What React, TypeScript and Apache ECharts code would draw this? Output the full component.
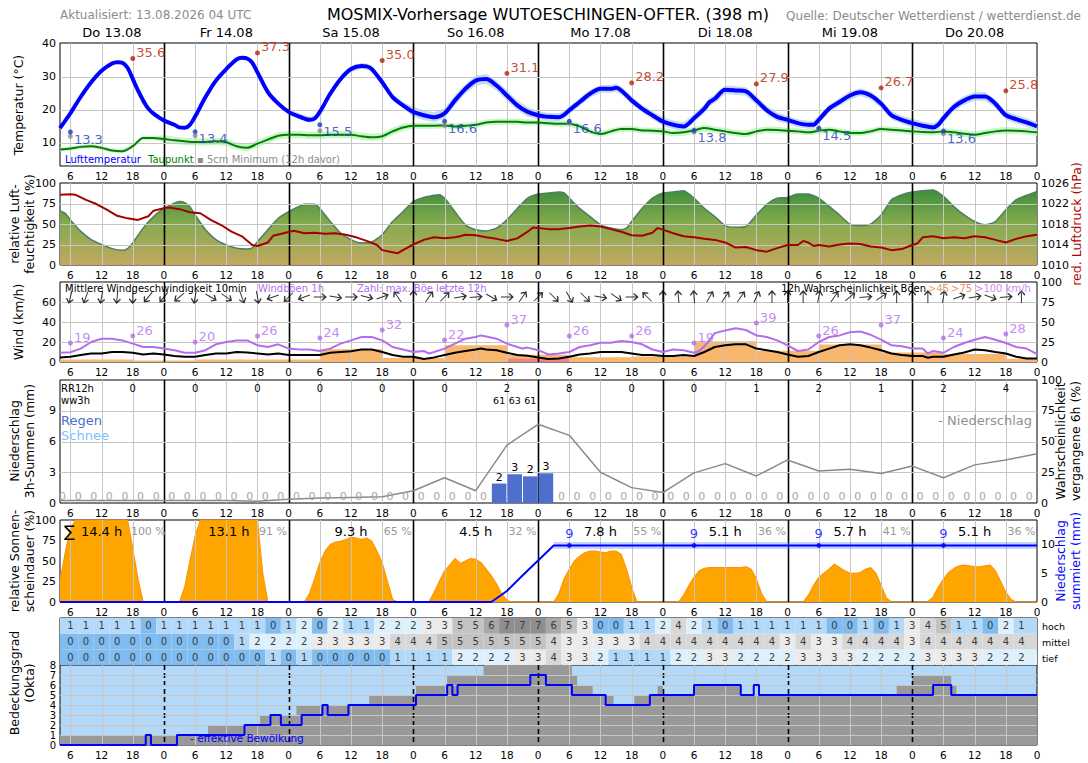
import React, { useEffect, useRef } from "react";
import * as echarts from "echarts";

const FONT = "DejaVu Sans";
const X_MIN = 4;
const X_MAX = 192;

// ---- axes / categories ----
const xTicks = [6,12,18,24,30,36,42,48,54,60,66,72,78,84,90,96,102,108,114,120,126,132,138,144,150,156,162,168,174,180,186,192];
const dayCenters = [14,36,60,84,108,132,156,180];
const dayLabels = ["Do 13.08","Fr 14.08","Sa 15.08","So 16.08","Mo 17.08","Di 18.08","Mi 19.08","Do 20.08"];
const hours3 = [6,9,12,15,18,21,24,27,30,33,36,39,42,45,48,51,54,57,60,63,66,69,72,75,78,81,84,87,90,93,96,99,102,105,108,111,114,117,120,123,126,129,132,135,138,141,144,147,150,153,156,159,162,165,168,171,174,177,180,183,186,189];
const minHours = [6,30,54,78,102,126,150,174];
const maxHours = [18,42,66,90,114,138,162,186];
const gustMaxHours = [6,18,30,42,54,66,78,90,102,114,126,138,150,162,174,186];

// ---- temperature ----
const temperature = [[4,14.5],[6,19],[8,24],[10,28.4],[12,31.9],[14,34.1],[15,34.5],[16,34.3],[17,32.8],[18,29.4],[19,25.9],[20,22.9],[21,20.4],[22,18.9],[24,16.8],[26,15.5],[27,14.7],[28,14.6],[29,15.5],[30,18],[32,23.9],[34,28.9],[36,32.4],[38,35.3],[39,35.8],[40,35.6],[41,34.3],[42,31.4],[44,25.4],[46,21.9],[48,19.4],[50,18],[52,17],[53,17.4],[54,19.4],[56,24.9],[58,29.4],[60,32.4],[62,33.3],[63,33.2],[64,32.4],[66,28.4],[68,23.9],[70,21.4],[72,19.4],[74,18.4],[76,17.8],[78,19],[80,22.9],[82,26.4],[84,28.9],[86,29.4],[88,27.4],[90,24.4],[92,21.4],[94,19.4],[96,18.4],[98,17.9],[100,17.8],[101,18.5],[102,19.9],[104,22.4],[106,24.9],[108,26.4],[110,26.4],[111,26.7],[112,25.9],[114,22.9],[116,20.4],[118,18.4],[120,16.5],[122,15.5],[124,15],[126,17.5],[128,20.4],[129,22.4],[130,23.4],[132,26.1],[134,25.9],[136,25.6],[138,22.9],[140,19.9],[142,17.9],[144,17],[146,16],[148,15.5],[149,15.5],[150,17],[152,20.4],[154,22.4],[156,24.4],[158,25.4],[160,24.4],[162,21.9],[164,18.4],[166,17],[168,16],[170,15.2],[172,14.7],[173,15.5],[174,17.5],[176,20.9],[178,22.9],[180,24.1],[182,24.1],[184,21.9],[186,18.4],[188,17.2],[190,16.2],[192,15]];
const dewpoint = [[4,8],[6,8.3],[8,8.8],[10,9],[12,8.5],[14,7.7],[16,7.5],[18,9],[20,11.5],[22,11.5],[24,11.2],[26,10.8],[28,10.5],[30,10.3],[32,10.3],[34,10.5],[36,10.2],[38,9],[40,8.5],[42,9.8],[44,11],[46,12.2],[48,12.5],[50,12.5],[52,12.3],[54,12.3],[56,12.5],[58,12.5],[60,12.5],[62,12],[64,11.7],[66,12],[68,13.5],[70,14.7],[72,15.2],[74,15.2],[76,15.2],[78,15.3],[80,15],[82,15.2],[84,15.5],[86,16.2],[88,16.4],[90,16.4],[92,16.4],[94,16.2],[96,16.2],[98,16],[100,15.8],[102,15.8],[104,15],[106,13.5],[108,12.7],[110,13.5],[112,14.2],[114,14.2],[116,13.8],[118,13.7],[120,13.5],[122,13],[124,13.2],[126,13.8],[128,14.5],[130,14],[132,13.5],[134,13],[136,12.7],[138,13.5],[140,14],[142,13.9],[144,13.7],[146,13.5],[148,13.2],[150,13.7],[152,14],[154,13.5],[156,13],[158,13],[160,13.5],[162,14.2],[164,14],[166,13.8],[168,13.5],[170,13.3],[172,13.2],[174,13.5],[176,13.2],[178,12.8],[180,12.5],[182,13],[184,13.5],[186,13.8],[188,13.7],[190,13.5],[192,13.2]];
const tempSpreadPerDay = [0.25,0.5,0.9,1.5,1.2,1.3,1.2,1.3];
const dewSpreadPerDay = [0.6,1.1,1.1,0.9,0.9,1.0,0.9,1.0];
const tMax = [35.6,37.3,35.0,31.1,28.2,27.9,26.7,25.8];
const tMin = [13.3,13.4,15.5,16.6,16.6,13.8,14.5,13.6];
const groundMin = [12.0,12.2,13.7,15.3,16.0,13.3,14.2,12.8];

// ---- humidity / pressure ----
const humidity = [[4,66],[5,63],[6,55],[8,41],[10,31],[12,25],[14,20],[16,18],[17,20],[18,27],[20,45],[22,59],[24,69],[26,75.5],[27,77.5],[28,76],[29,71],[30,61],[32,43],[34,31],[36,24.5],[38,20.4],[40,19.6],[41,21],[42,28.6],[44,43],[46,57],[48,65],[50,71.4],[51,74],[53,74],[54,69],[56,53],[58,39],[60,31],[62,27],[64,28],[66,37],[68,53],[70,65],[72,77.5],[74,82.4],[76,85],[77,85.7],[78,81.6],[80,65],[82,49],[84,43],[86,41.6],[88,45],[90,55],[92,69],[94,81.6],[96,86.5],[98,87.8],[100,89],[101,87.8],[102,81.6],[104,69],[106,59],[108,49],[110,45],[112,43],[113,45],[114,53],[116,69],[118,81.6],[120,87.8],[122,89],[124,90.6],[126,81.6],[128,69],[130,59],[132,48],[134,46],[136,47],[138,61],[140,74],[142,81.6],[144,82.4],[146,86.5],[148,86.5],[150,81.6],[152,71.4],[154,61],[156,49.8],[158,48],[160,49.8],[162,61],[164,79.6],[166,85.7],[168,89],[170,90.6],[172,91.4],[174,83.7],[176,71.4],[178,61],[180,53],[182,49],[184,53],[186,67.3],[188,79.6],[190,85],[192,89.8]];
const pressure = [[4,1023.7],[6,1023.8],[7,1023.7],[9,1022.7],[11,1021.9],[13,1020.8],[15,1019.6],[17,1019.1],[19,1018.8],[21,1019.5],[22,1020.6],[24,1021.1],[25,1021.2],[27,1020.9],[29,1020.3],[31,1020.1],[33,1018.8],[35,1017.8],[37,1016.5],[39,1015.6],[41,1013.9],[42,1013.7],[44,1014.4],[45,1015.7],[47,1016.2],[49,1016.7],[51,1016.2],[53,1016.3],[55,1016.1],[57,1016.2],[59,1015.9],[61,1015.4],[63,1014.7],[65,1013.9],[66,1012.9],[68,1012.5],[69,1012.3],[70,1012.9],[72,1014.0],[74,1014.9],[76,1015.4],[78,1015.2],[80,1015.4],[81,1015.6],[82,1015.9],[84,1015.8],[86,1015.4],[88,1015.1],[90,1014.7],[92,1015.2],[94,1016.5],[95,1017.3],[96,1017.2],[98,1017.0],[100,1017.0],[102,1017.2],[104,1017.5],[106,1017.7],[108,1017.5],[110,1017.0],[112,1016.5],[114,1015.8],[116,1015.7],[118,1016.3],[119,1017.2],[120,1016.9],[122,1016.2],[124,1015.6],[126,1015.4],[128,1015.1],[130,1014.9],[132,1014.4],[134,1013.4],[136,1013.5],[138,1012.9],[140,1012.6],[142,1013.3],[144,1013.9],[146,1013.9],[147,1014.7],[148,1014.4],[149,1013.7],[150,1013.9],[152,1013.6],[154,1014.0],[156,1014.2],[158,1014.1],[160,1013.6],[162,1013.4],[164,1012.9],[166,1013.1],[168,1013.9],[169,1014.2],[170,1015.4],[172,1015.6],[174,1015.2],[176,1015.4],[178,1015.2],[180,1015.6],[182,1015.4],[184,1014.9],[186,1014.4],[188,1015.1],[190,1015.6],[192,1015.9]];

// ---- wind ----
const windSpeed = [[4,4.6],[6,5.2],[8,7],[10,8.5],[12,8.5],[14,10],[16,10],[18,9.2],[20,7.5],[22,8.5],[24,7.5],[26,6],[28,5.2],[30,5.2],[32,7],[34,8.5],[36,8.5],[38,10],[40,9.5],[42,8.5],[44,7.5],[46,8.5],[48,7],[50,7],[52,7],[54,7],[56,9.2],[58,10],[60,10.8],[62,12.5],[64,12.5],[66,10],[68,7],[70,5.2],[72,5.2],[74,3],[76,4.6],[78,7],[80,9.2],[82,11],[84,12.5],[85,13.4],[86,12.5],[88,11.8],[90,9.2],[92,7],[94,6.2],[96,4.6],[98,3],[100,3.6],[102,5.2],[104,7.5],[106,8.5],[108,10],[110,10],[112,10],[114,8.5],[116,7],[118,7],[120,6],[122,6],[124,7],[126,6],[128,10],[130,15],[132,16.7],[134,17.7],[136,17.7],[138,13.4],[140,11.8],[142,10],[144,7.5],[146,5.2],[148,6],[150,10],[152,13.4],[154,16.7],[156,17.7],[158,16.7],[160,14.4],[162,11.8],[164,8.5],[166,7],[168,6],[170,6],[171,4.3],[172,5.2],[174,5.2],[176,7.5],[178,9.5],[180,12.5],[182,11.8],[184,10],[186,8.5],[188,5.2],[190,3.6],[192,3.6]];
const windGust = [[4,9.2],[6,9.8],[8,13.4],[10,20],[12,23.3],[14,23.3],[16,21.6],[18,18.4],[20,15],[22,15],[24,13.4],[26,11.8],[28,9.2],[30,9.2],[32,11.8],[34,17.7],[36,20],[38,21.6],[40,21.6],[42,16.7],[44,15],[46,17.7],[48,13.4],[50,12.5],[52,12.5],[54,11],[56,13.4],[58,18.4],[60,21.6],[62,25],[64,25],[66,21.6],[68,15],[70,12.5],[72,10],[74,11],[75,8.5],[76,10],[78,13.4],[80,18.4],[82,23.3],[84,25],[85,26.6],[86,25.6],[88,23.3],[90,18.4],[92,15],[93,13.4],[94,14.4],[96,11.8],[98,7.5],[100,8.5],[102,10],[104,15],[106,16.7],[108,19.3],[110,19.3],[112,21],[114,20],[116,17.7],[118,12.5],[120,10],[122,12.5],[124,11.8],[126,9.2],[127,11],[128,15.7],[130,28.9],[132,31.5],[134,33.8],[136,32],[138,26.6],[140,25],[142,21.6],[144,16.7],[146,11],[148,12.5],[150,20],[152,25],[154,26.6],[156,29.8],[158,30.5],[160,27.2],[162,22.3],[164,16.7],[166,15.7],[168,13.4],[170,13.4],[171,8.5],[172,11],[174,9.2],[176,15],[178,19],[180,22.3],[182,25],[184,22.3],[186,19],[188,15],[190,13.4],[192,7.9]];
const gustMax = [19,26,20,26,24,32,22,37,26,26,19,39,26,37,24,28];
const gustProb45 = [[4,18,3],[18,30,2],[30,42,3],[42,54,3],[54,66,16],[66,78,5],[78,90,21],[90,102,9],[102,114,6],[114,126,7],[126,138,26],[138,150,14],[150,162,22],[162,174,12],[174,186,10],[186,192,4]];
const gustProb75 = [[90,102,4]];
const windDir = [15,20,10,5,0,40,40,50,10,300,305,340,350,70,45,70,270,280,270,285,250,145,180,215,225,260,265,300,270,215,225,315,330,315,280,305,270,135,180,175,175,210,215,215,205,180,180,180,190,215,230,265,235,180,180,180,190,250,260,290,265,180];

// ---- precipitation ----
const rainCenters = [4.5,7.5,10.5,13.5,16.5,19.5,22.5,25.5,28.5,31.5,34.5,37.5,40.5,43.5,46.5,49.5,52.5,55.5,58.5,61.5,64.5,67.5,70.5,73.5,76.5,79.5,82.5,85.5,88.5,91.5,94.5,97.5,100.5,103.5,106.5,109.5,112.5,115.5,118.5,121.5,124.5,127.5,130.5,133.5,136.5,139.5,142.5,145.5,148.5,151.5,154.5,157.5,160.5,163.5,166.5,169.5,172.5,175.5,178.5,181.5,184.5,187.5,190.5];
const rain3h = [0,0,0,0,0,0,0,0,0,0,0,0,0,0,0,0,0,0,0,0,0,0,0,0,0,0,0,0,1.9,2.8,2.6,2.9,0,0,0,0,0,0,0,0,0,0,0,0,0,0,0,0,0,0,0,0,0,0,0,0,0,0,0,0,0,0,0];
const rainBarLabels = ["2","3","2","3"];
const rr12Hours = [18,30,42,54,66,78,90,102,114,126,138,150,162,174,186];
const rr12 = [0,0,0,0,0,0,2,8,0,0,1,2,1,2,4];
const wwHours = [88.5,91.5,94.5];
const ww3h = [61,63,61];
const precipProb = [[4,2],[6,2],[12,2],[18,2],[24,2],[30,2],[36,2],[42,1.5],[48,3],[54,4],[60,4.5],[66,5],[72,10],[78,20.5],[84,10],[90,47],[96,64],[102,55],[108,25],[114,12.5],[120,8.5],[126,24.5],[132,32],[138,22],[144,35],[150,26],[156,27.5],[162,24],[168,30],[174,20.5],[180,31],[186,35],[192,40]];

// ---- sunshine ----
const sunshine = [[4,25],[5,60],[6,90],[7,100],[17,100],[18,65],[19,28],[20,0],
  [27,0],[28,18],[29,50],[30,80],[31,100],[42,100],[43,35],[44,0],
  [51,0],[52,10],[53,28],[54,48],[55,62],[56,70],[57,73],[58,74],[59,76],[60,79],[61,78],[62,76],[63,78],[64,74],[65,62],[66,48],[67,25],[68,3],[69,0],
  [75,0],[76,12],[77,25],[78,38],[79,45],[80,53],[81,47],[82,50],[83,53],[84,52],[85,48],[86,40],[87,32],[88,22],[89,10],[90,2],[91,0],
  [99,0],[100,10],[101,28],[102,40],[103,50],[104,56],[105,60],[106,62],[107,62],[108,61],[109,60],[110,62],[111,62],[112,58],[113,40],[114,18],[115,0],
  [123,0],[124,8],[125,20],[126,30],[127,38],[128,41],[129,42],[135,42],[136,43],[137,40],[138,28],[139,10],[140,0],
  [147,0],[148,8],[149,20],[150,30],[151,35],[152,40],[153,46],[154,42],[155,38],[156,35],[157,35],[158,36],[159,40],[160,42],[161,35],[162,20],[163,5],[164,0],
  [171,0],[172,6],[173,18],[174,28],[175,36],[176,41],[177,44],[178,45],[179,44],[180,43],[181,43],[182,44],[183,45],[184,38],[185,25],[186,12],[187,3],[188,0],[192,0]];
const sunHoursTextAt = [12,36.5,60,84,108,132,156,180];
const sunPctTextAt = [21,45,69,93,117,141,165,189];
const sunHours = [14.4,13.1,9.3,4.5,7.8,5.1,5.7,5.1];
const sunRel = [100,91,65,32,55,36,41,36];
const precipSum = [[4,0],[87,0],[90,1.9],[93,4.6],[96,7.2],[99,9.8],[192,9.8]];
const precipSumMarkHours = [102,126,150,174];
const precipSumMarkVals = [9.8,9.8,9.8,9.8];

// ---- clouds ----
const cloudHigh = [1,1,1,1,1,0,1,1,1,1,1,1,1,0,1,2,0,2,1,1,2,2,2,3,3,5,5,6,7,7,7,6,5,3,0,0,1,1,2,4,2,1,0,1,1,1,1,1,1,0,0,1,0,1,3,4,5,1,1,0,2,1];
const cloudMid = [0,0,0,0,0,0,0,0,0,0,0,1,2,2,2,2,3,3,3,3,3,4,4,4,5,5,5,5,5,5,5,4,3,3,3,3,3,4,4,4,4,4,4,4,4,4,3,4,3,3,4,4,4,4,3,4,4,4,4,4,4,4];
const cloudLow = [0,0,0,0,0,0,0,0,0,0,0,0,0,1,0,1,0,0,0,0,0,1,1,1,1,2,2,2,2,3,3,4,3,3,2,1,1,1,1,2,2,3,3,2,2,2,2,3,3,3,3,2,2,2,2,3,3,3,3,2,2,2];
const cloudTotal = [[4,1],[32.5,2],[42.5,3],[49.5,4],[63.5,5],[72.5,6],[78.5,7],[85.5,8],[102.5,7],[103.5,6],[106.5,5],[110.5,4],[114.5,5],[119,6],[120,5],[126,6],[135,5],[165,6],[168,7],[175.5,6],[176.5,5],[192,5]];
const cloudEffective = [[4,0],[20.5,1],[21.5,0],[26.5,1],[39.5,2],[44.5,3],[46.5,2],[50.5,3],[54.5,4],[55.5,3],[59.5,4],[72.5,5],[78.5,6],[79.5,5],[80.5,6],[94.5,7],[97.5,6],[102.5,5],[109,4],[117.5,5],[126,6],[135,5],[137.5,6],[138.5,5],[172,6],[175.5,5],[192,5]];
const cloudColors = ["#80bcf0","#b4d9f8","#def0fb","#ebebeb","#d7d7d7","#c3c3c3","#a8a8a8","#8e8e8e","#767676"];

// ---------------------------------------------------------------
const dayIdx = (h: number) => Math.min(7, Math.floor(h / 24));

function txt(x: number, y: number, text: string, o: any = {}) {
  const align = o.align || "left";
  const valign = o.valign || "middle";
  return {
    type: "text",
    x, y,
    rotation: o.rotation || 0,
    silent: true,
    z: 100,
    style: {
      text,
      fontSize: o.size || 11,
      fontFamily: FONT,
      fontWeight: o.weight || "normal",
      fill: o.color || "#000",
      align, verticalAlign: valign,
      textAlign: align, textVerticalAlign: valign,
      lineHeight: o.lineHeight,
    },
  };
}

function textRow(gi: number, yi: number, hs: number[], texts: string[], dy: number, size: number, color: string) {
  return {
    type: "custom", xAxisIndex: gi, yAxisIndex: yi, silent: true, z: 6,
    data: hs.map((h) => [h, 0]),
    renderItem: (params: any, api: any) => {
      const cs = params.coordSys;
      const x = api.coord([api.value(0), api.value(1)])[0];
      return {
        type: "text", x, y: cs.y + dy,
        style: { text: texts[params.dataIndex], fontSize: size, fontFamily: FONT, fill: color,
          align: "center", verticalAlign: "middle", textAlign: "center", textVerticalAlign: "middle" },
      };
    },
  };
}

function vGrid(gi: number, yi: number, dashed = false) {
  return {
    type: "custom", xAxisIndex: gi, yAxisIndex: yi, silent: true, z: 3,
    data: xTicks.filter((h) => h < X_MAX).map((h) => [h, 0]),
    renderItem: (params: any, api: any) => {
      const cs = params.coordSys;
      const h = api.value(0);
      const x = Math.round(api.coord([h, api.value(1)])[0]) + 0.5;
      const mid = h % 24 === 0;
      return {
        type: "line",
        shape: { x1: x, y1: cs.y, x2: x, y2: cs.y + cs.height },
        style: { stroke: mid ? "#000" : "#c6c6c6", lineWidth: mid ? 1.6 : 1, lineDash: mid && dashed ? [5, 3] : null },
      };
    },
  };
}

function hGrid(gi: number, yi: number, vals: number[]) {
  return {
    type: "custom", xAxisIndex: gi, yAxisIndex: yi, silent: true, z: 3,
    data: vals.map((v) => [X_MIN, v]),
    renderItem: (params: any, api: any) => {
      const cs = params.coordSys;
      const y = Math.round(api.coord([api.value(0), api.value(1)])[1]) + 0.5;
      return { type: "line", shape: { x1: cs.x, y1: y, x2: cs.x + cs.width, y2: y }, style: { stroke: "#c6c6c6", lineWidth: 1 } };
    },
  };
}

function blocks(gi: number, yi: number, data: number[][], color: string) {
  return {
    type: "custom", xAxisIndex: gi, yAxisIndex: yi, silent: true, z: 2,
    data,
    renderItem: (params: any, api: any) => {
      const p0 = api.coord([api.value(0), api.value(2)]);
      const p1 = api.coord([api.value(1), 0]);
      return { type: "rect", shape: { x: p0[0], y: p0[1], width: p1[0] - p0[0], height: p1[1] - p0[1] }, style: { fill: color } };
    },
  };
}

// uncertainty band drawn as one polygon around a centre line
function band(gi: number, yi: number, centre: number[][], spread: number[], color: string) {
  return {
    type: "custom", xAxisIndex: gi, yAxisIndex: yi, silent: true, z: 2,
    data: [centre[0]],
    renderItem: (params: any, api: any) => {
      const up = centre.map(([h, v]) => api.coord([h, v + spread[dayIdx(h)]]));
      const lo = centre.slice().reverse().map(([h, v]) => api.coord([h, v - spread[dayIdx(h)]]));
      return { type: "polygon", shape: { points: up.concat(lo) }, style: { fill: color } };
    },
  };
}

function buildOption() {
  const panels = [
    { top: 43, height: 123 },
    { top: 183, height: 82 },
    { top: 282, height: 80 },
    { top: 380, height: 123 },
    { top: 520, height: 82 },
    { top: 618, height: 47 },
    { top: 665, height: 80 },
  ];
  const grid = panels.map((p, i) => ({
    left: 60, right: 51, top: p.top, height: p.height, show: true,
    borderColor: "#000", borderWidth: 1, backgroundColor: i === 6 ? "#b4d8f8" : "transparent",
  }));

  const xLabel = { customValues: xTicks, interval: 0, formatter: (v: number) => String(v % 24), fontSize: 10.5, color: "#000", fontFamily: FONT, margin: 4, showMinLabel: true, showMaxLabel: true };
  const xAxis: any[] = panels.map((_, i) => ({
    type: "value", gridIndex: i, min: X_MIN, max: X_MAX,
    axisLine: { show: false }, axisTick: { show: false }, splitLine: { show: false },
    axisLabel: i === 5 ? { show: false } : xLabel,
  }));
  xAxis.push({
    type: "value", gridIndex: 0, position: "top", min: X_MIN, max: X_MAX,
    axisLine: { show: false }, axisTick: { show: false }, splitLine: { show: false },
    axisLabel: { customValues: dayCenters, interval: 0, formatter: (v: number) => dayLabels[dayCenters.indexOf(v)] || "", fontSize: 13, color: "#000", fontFamily: FONT, margin: 4 },
  });

  const yAx = (gi: number, min: number, max: number, labels: number[] | null, pos = "left", size = 11) => ({
    type: "value", gridIndex: gi, min, max, position: pos,
    axisLine: { show: false }, axisTick: { show: false }, splitLine: { show: false },
    axisLabel: labels ? { customValues: labels, interval: 0, fontSize: size, color: "#000", fontFamily: FONT, margin: 4, showMinLabel: true, showMaxLabel: true, hideOverlap: false, formatter: (v: number) => String(v) } : { show: false },
  });
  const yAxis = [
    yAx(0, 3, 40.3, [10, 20, 30, 40]),
    yAx(1, 0, 100, [0, 25, 50, 75, 100]),
    yAx(1, 1010, 1026, [1010, 1014, 1018, 1022, 1026], "right"),
    yAx(2, 0, 80, [0, 20, 40, 60]),
    yAx(2, 0, 100, [0, 25, 50, 75, 100], "right"),
    yAx(3, 0, 12, [0, 3, 6, 9]),
    yAx(3, 0, 100, [0, 25, 50, 75, 100], "right"),
    yAx(4, 0, 100, [0, 25, 50, 75, 100]),
    yAx(4, 0, 14.2, [0, 5, 10], "right"),
    yAx(5, 0, 3, null),
    yAx(6, 0, 8, [0, 1, 2, 3, 4, 5, 6, 7, 8], "left", 10),
  ];

  const nonzeroRank: number[] = [];
  let rk = 0;
  rain3h.forEach((v) => { nonzeroRank.push(v > 0 ? rk++ : -1); });

  const tableData: number[][] = [];
  [cloudLow, cloudMid, cloudHigh].forEach((row, r) => {
    row.forEach((v, i) => {
      const h = hours3[i];
      const x0 = i === 0 ? X_MIN : h - 1.5;
      const x1 = i === row.length - 1 ? X_MAX : h + 1.5;
      tableData.push([x0, x1, r, v, h]);
    });
  });

  const series: any[] = [
    // ---------- temperature ----------
    band(0, 0, dewpoint, dewSpreadPerDay, "#c9f5c9"),
    band(0, 0, temperature, tempSpreadPerDay, "#c4dbf1"),
    vGrid(0, 0), hGrid(0, 0, [10, 20, 30]),
    { type: "line", xAxisIndex: 0, yAxisIndex: 0, data: dewpoint, smooth: 0.3, symbol: "none", lineStyle: { color: "#008000", width: 2 }, z: 4 },
    { type: "line", xAxisIndex: 0, yAxisIndex: 0, data: temperature, smooth: 0.3, symbol: "none", lineStyle: { color: "#0000ff", width: 4 }, z: 4 },
    { type: "scatter", xAxisIndex: 0, yAxisIndex: 0, data: minHours.map((h, i) => [h, groundMin[i]]), symbolSize: 5, itemStyle: { color: "#888" }, z: 5 },
    { type: "scatter", xAxisIndex: 0, yAxisIndex: 0, data: minHours.map((h, i) => [h, tMin[i]]), symbolSize: 5, itemStyle: { color: "#1a3cc0" }, z: 5,
      label: { show: true, position: "right", distance: 1, offset: [0, 7], formatter: (p: any) => p.value[1].toFixed(1), color: "#1a3cc0", fontSize: 13, fontFamily: FONT } },
    { type: "scatter", xAxisIndex: 0, yAxisIndex: 0, data: maxHours.map((h, i) => [h, tMax[i]]), symbolSize: 5, itemStyle: { color: "#b42200" }, z: 5,
      label: { show: true, position: "right", distance: 1, offset: [0, -6], formatter: (p: any) => p.value[1].toFixed(1), color: "#b42200", fontSize: 13, fontFamily: FONT } },

    // ---------- humidity / pressure ----------
    { type: "line", xAxisIndex: 1, yAxisIndex: 1, data: humidity, smooth: 0.2, symbol: "none", z: 2,
      lineStyle: { color: "#4f7f5f", width: 1.5 },
      areaStyle: { opacity: 1, color: new echarts.graphic.LinearGradient(0, 0, 0, 1, [
        { offset: 0, color: "#3f8e3c" }, { offset: 0.45, color: "#86ab4e" }, { offset: 1, color: "#c2a860" }]) } },
    vGrid(1, 1), hGrid(1, 1, [25, 50, 75]),
    { type: "line", xAxisIndex: 1, yAxisIndex: 2, data: pressure, symbol: "none", lineStyle: { color: "#a50000", width: 2 }, z: 4 },

    // ---------- wind ----------
    blocks(2, 4, gustProb45, "#f8b66e"),
    blocks(2, 4, gustProb75, "#f08080"),
    vGrid(2, 3), hGrid(2, 3, [20, 40, 60]),
    { type: "line", xAxisIndex: 2, yAxisIndex: 3, data: windGust, symbol: "none", lineStyle: { color: "#b36ef0", width: 2 }, z: 4 },
    { type: "line", xAxisIndex: 2, yAxisIndex: 3, data: windSpeed, symbol: "none", lineStyle: { color: "#000", width: 2 }, z: 4 },
    { type: "scatter", xAxisIndex: 2, yAxisIndex: 3, data: gustMaxHours.map((h, i) => [h, gustMax[i]]), symbolSize: 5, itemStyle: { color: "#b36ef0" }, z: 5,
      label: { show: true, position: "right", distance: 1, offset: [0, -6], formatter: (p: any) => String(p.value[1]), color: "#b36ef0", fontSize: 13, fontFamily: FONT } },
    { type: "scatter", xAxisIndex: 2, yAxisIndex: 3, z: 5, silent: true,
      symbol: "path://M0,0 L0,12 M-3.5,8 L0,12 L3.5,8", symbolSize: [7, 12],
      itemStyle: { color: "rgba(0,0,0,0)", borderColor: "#000", borderWidth: 1.3 },
      data: hours3.map((h, i) => ({ value: [h, 65], symbolRotate: -windDir[i] })) },

    // ---------- precipitation ----------
    vGrid(3, 5), hGrid(3, 5, [3, 6, 9]),
    { type: "line", xAxisIndex: 3, yAxisIndex: 6, data: precipProb, symbol: "none", lineStyle: { color: "#8a8a8a", width: 1.5 }, z: 4 },
    { type: "custom", xAxisIndex: 3, yAxisIndex: 5, z: 5, silent: true,
      data: rainCenters.map((c, i) => [c, rain3h[i]]),
      renderItem: (params: any, api: any) => {
        const c = api.value(0), v = api.value(1);
        if (!v) {
          const p = api.coord([c, 0]);
          return { type: "text", x: p[0], y: p[1] - 1, style: { text: "0", fill: "#a6a6a6", fontSize: 11, fontFamily: FONT, align: "center", verticalAlign: "bottom", textAlign: "center", textVerticalAlign: "bottom" } };
        }
        const p0 = api.coord([c - 1.5, v]);
        const p1 = api.coord([c + 1.5, 0]);
        return { type: "group", children: [
          { type: "rect", shape: { x: p0[0] + 0.5, y: p0[1], width: p1[0] - p0[0] - 1, height: p1[1] - p0[1] }, style: { fill: "#4f6fcf" } },
          { type: "text", x: (p0[0] + p1[0]) / 2, y: p0[1] - 1, style: { text: rainBarLabels[nonzeroRank[params.dataIndex]], fill: "#000", fontSize: 11, fontFamily: FONT, align: "center", verticalAlign: "bottom", textAlign: "center", textVerticalAlign: "bottom" } },
        ] };
      } },
    textRow(3, 5, rr12Hours, rr12.map(String), 8, 10, "#000"),
    textRow(3, 5, wwHours, ww3h.map(String), 20, 9.5, "#000"),

    // ---------- sunshine ----------
    { type: "line", xAxisIndex: 4, yAxisIndex: 7, data: sunshine, symbol: "none", z: 2,
      lineStyle: { color: "#ff9400", width: 1.2 }, areaStyle: { color: "#ffa500", opacity: 1 } },
    vGrid(4, 7),
    { type: "line", xAxisIndex: 4, yAxisIndex: 8, data: precipSum.filter((p) => p[0] >= 99), symbol: "none", lineStyle: { color: "rgba(90,130,255,0.35)", width: 7 }, z: 4 },
    { type: "line", xAxisIndex: 4, yAxisIndex: 8, data: precipSum, symbol: "none", lineStyle: { color: "#0000ff", width: 2 }, z: 4 },
    { type: "scatter", xAxisIndex: 4, yAxisIndex: 8, data: precipSumMarkHours.map((h, i) => [h, precipSumMarkVals[i]]), symbolSize: 5, itemStyle: { color: "#0000ff" }, z: 5,
      label: { show: true, position: "top", distance: 3, formatter: (p: any) => String(Math.floor(p.value[1])), color: "#0000ff", fontSize: 13, fontFamily: FONT } },
    textRow(4, 7, sunHoursTextAt, sunHours.map((v) => v.toFixed(1) + " h"), 11, 13, "#000"),
    textRow(4, 7, sunPctTextAt, sunRel.map((v) => v + " %"), 11, 11, "#999"),

    // ---------- cloud table ----------
    { type: "custom", xAxisIndex: 5, yAxisIndex: 9, silent: true, z: 2,
      data: tableData,
      renderItem: (params: any, api: any) => {
        const x0 = api.value(0), x1 = api.value(1), r = api.value(2), v = api.value(3), h = api.value(4);
        const p0 = api.coord([x0, r + 1]);
        const p1 = api.coord([x1, r]);
        const pc = api.coord([h, r + 0.5]);
        return { type: "group", children: [
          { type: "rect", shape: { x: p0[0], y: p0[1], width: p1[0] - p0[0], height: p1[1] - p0[1] }, style: { fill: cloudColors[v] } },
          { type: "text", x: pc[0], y: pc[1],
            style: { text: String(v), fill: "#3a3a3a", fontSize: 10, fontFamily: FONT, align: "center", verticalAlign: "middle", textAlign: "center", textVerticalAlign: "middle" } },
        ] };
      } },

    // ---------- clouds ----------
    { type: "line", xAxisIndex: 6, yAxisIndex: 10, data: cloudTotal, step: "end", symbol: "none", lineStyle: { width: 0, opacity: 0 }, areaStyle: { color: "#999999", opacity: 1 }, z: 2 },
    vGrid(6, 10, true), hGrid(6, 10, [1, 2, 3, 4, 5, 6, 7]),
    { type: "line", xAxisIndex: 6, yAxisIndex: 10, data: cloudEffective, step: "end", symbol: "none", lineStyle: { color: "#0000ff", width: 2 }, z: 4 },
  ];

  const rot = Math.PI / 2;
  const graphic = [
    txt(548, 14, "MOSMIX-Vorhersage WUTOESCHINGEN-OFTER. (398 m)", { size: 16, align: "center" }),
    txt(60, 15, "Aktualisiert: 13.08.2026 04 UTC", { size: 12, color: "#8c8c8c" }),
    txt(1081, 16, "Quelle: Deutscher Wetterdienst / wetterdienst.de", { size: 12, color: "#8c8c8c", align: "right" }),
    // axis titles
    txt(18, 105, "Temperatur (°C)", { size: 12.5, align: "center", rotation: rot }),
    txt(22, 224, "relative Luft-\nfeuchtigkeit (%)", { size: 12.5, align: "center", rotation: rot, lineHeight: 15 }),
    txt(1076, 224, "red. Luftdruck (hPa)", { size: 12.5, align: "center", rotation: rot, color: "#b00000" }),
    txt(18, 322, "Wind (km/h)", { size: 12.5, align: "center", rotation: rot }),
    txt(22, 441, "Niederschlag\n3h-Summen (mm)", { size: 12.5, align: "center", rotation: rot, lineHeight: 15 }),
    txt(1068, 441, "Wahrscheinlichkeit\nvergangene 6h (%)", { size: 12.5, align: "center", rotation: rot, lineHeight: 15 }),
    txt(22, 561, "relative Sonnen-\nscheindauer (%)", { size: 12.5, align: "center", rotation: rot, lineHeight: 15 }),
    txt(1068, 561, "Niederschlag\nsummiert (mm)", { size: 12.5, align: "center", rotation: rot, lineHeight: 15, color: "#0000ff" }),
    txt(22, 683, "Bedeckungsgrad\n(Okta)", { size: 12.5, align: "center", rotation: rot, lineHeight: 15 }),
    // temperature legend
    txt(65, 159, "Lufttemperatur", { size: 10, color: "#0000ff" }),
    txt(148, 159, "Taupunkt", { size: 10, color: "#008000" }),
    txt(197, 159, "▪ 5cm Minimum (12h davor)", { size: 10, color: "#8c8c8c" }),
    // wind header
    txt(65, 288, "Mittlere Windgeschwindigkeit 10min", { size: 10 }),
    txt(258, 288, "Windböen 1h", { size: 10, color: "#b36ef0" }),
    txt(357, 288, "Zahl: max. Böe letzte 12h", { size: 10, color: "#b36ef0" }),
    txt(926, 288, "12h Wahrscheinlichkeit Böen", { size: 10, align: "right" }),
    txt(928, 288, ">45", { size: 10, color: "#f0a060" }),
    txt(951, 288, ">75", { size: 10, color: "#f08a70" }),
    txt(975, 288, ">100 km/h", { size: 10, color: "#d385f0" }),
    // precipitation
    txt(61, 388, "RR12h", { size: 10 }),
    txt(61, 400, "ww3h", { size: 10 }),
    txt(61, 420, "Regen", { size: 13, color: "#4a6fd0" }),
    txt(61, 435, "Schnee", { size: 13, color: "#80bfff" }),
    txt(1032, 420, "- Niederschlag", { size: 13, color: "#909090", align: "right" }),
    // sunshine
    txt(64, 531, "∑", { size: 16 }),
    // cloud table
    txt(1042, 626, "hoch", { size: 9.5 }),
    txt(1042, 642, "mittel", { size: 9.5 }),
    txt(1042, 658, "tief", { size: 9.5 }),
    txt(190, 738, "- effektive Bewölkung", { size: 10.5, color: "#0000ff" }),
  ];

  return { animation: false, backgroundColor: "#fff", grid, xAxis, yAxis, series, graphic: { elements: graphic } };
}

export default function App() {
  const ref = useRef<HTMLDivElement>(null);
  useEffect(() => {
    const chart = echarts.init(ref.current as HTMLDivElement, null, { renderer: "svg" });
    chart.setOption(buildOption() as any);
    return () => chart.dispose();
  }, []);
  return <div ref={ref} style={{ position: "absolute", left: 0, top: 0, width: 1088, height: 763, background: "#fff" }} />;
}
